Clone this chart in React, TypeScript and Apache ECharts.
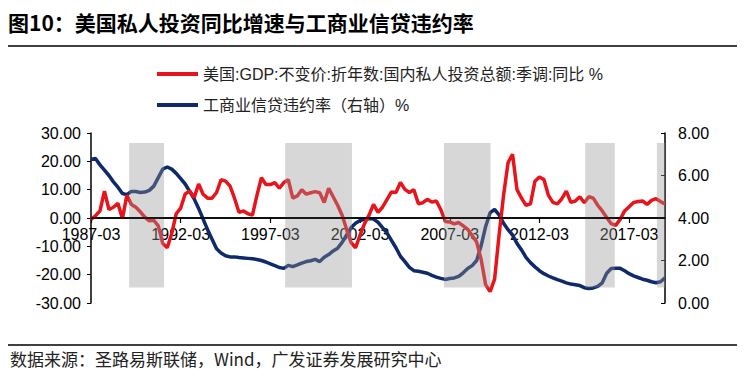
import React, { useEffect, useRef } from "react";
import * as echarts from "echarts";

// Quarterly categories 1987-03 .. 2019-03
const startYear = 1987;
const quarterMonths = ["03", "06", "09", "12"];
const categories: string[] = [];
for (let y = startYear; y <= 2019; y++) {
  for (const m of quarterMonths) {
    if (y === 2019 && m !== "03") continue;
    categories.push(`${y}-${m}`);
  }
}

// 美国:GDP:不变价:折年数:国内私人投资总额:季调:同比 (%)
const investYoY: number[] = [
  -0.5, 0.8, 2.5, 9.5, 3.0, 3.8, 5.2, -0.2, 8.0, 4.8,
  3.8, 2.2, 0.3, -1.0, -0.8, -2.8, -9.0, -10.5, -5.5, 1.5,
  3.5, 8.5, 9.5, 7.2, 12.0, 8.4, 7.0, 7.0, 9.0, 13.5,
  13.0, 11.3, 7.0, 2.0, 2.5, 1.5, 1.0, 8.0, 14.2, 11.8,
  11.8, 12.5, 10.5, 12.5, 13.5, 7.0, 7.8, 10.0, 8.4, 8.9,
  9.3, 8.9, 5.5, 10.5, 7.5, 4.5, 1.0, -4.0, -8.7, -10.5,
  -6.0, -2.0, 1.0, 4.8, 2.0, 3.8, 6.5, 9.2, 9.0, 12.5,
  10.1, 9.0, 10.0, 5.0, 5.4, 6.6, 5.6, 6.0, 3.0, -1.2,
  -1.4, -2.1, -1.6, -2.8, -4.0, -6.2, -8.5, -14.6, -23.5, -26.0,
  -21.6, -6.0, 8.0, 19.5, 22.5, 10.0, 7.0, 4.5, 5.0, 13.0,
  14.5, 13.6, 8.0, 5.5, 5.0, 6.8, 9.5, 5.5, 6.0, 7.5,
  5.4, 7.5, 7.0, 4.5, 2.5, 0.2, -2.0, -2.6, -0.5, 2.5,
  4.0, 5.5, 5.8, 6.0, 4.8, 6.2, 6.8, 5.8, 5.0,
];

// 工商业信贷违约率（右轴）%
const delinquency: number[] = [
  6.75, 6.8, 6.5, 6.25, 6.0, 5.7, 5.45, 5.15, 5.1, 5.25,
  5.25, 5.2, 5.22, 5.3, 5.5, 5.9, 6.3, 6.4, 6.3, 6.1,
  5.85, 5.6, 5.25, 4.9, 4.45, 3.95, 3.45, 3.0, 2.55, 2.35,
  2.22, 2.17, 2.17, 2.14, 2.12, 2.1, 2.08, 2.05, 2.0, 1.93,
  1.84, 1.76, 1.67, 1.63, 1.77, 1.71, 1.79, 1.88, 1.95, 1.99,
  2.05, 1.95, 2.15, 2.28, 2.45, 2.58, 2.85, 3.2, 3.55, 3.75,
  3.88, 3.95, 3.98, 3.95, 3.8, 3.55, 3.3, 2.95, 2.6, 2.2,
  1.95, 1.68, 1.52, 1.49, 1.45, 1.4, 1.3, 1.22, 1.16, 1.11,
  1.15, 1.18, 1.25, 1.42, 1.62, 1.76, 2.0, 2.7, 3.6, 4.25,
  4.4, 4.15, 3.75, 3.45, 3.2, 2.8, 2.5, 2.15, 1.9, 1.7,
  1.52, 1.38, 1.27, 1.18, 1.1, 1.03, 0.95, 0.89, 0.86, 0.82,
  0.72, 0.68, 0.71, 0.78, 0.95, 1.4, 1.62, 1.64, 1.63, 1.52,
  1.38, 1.28, 1.2, 1.12, 1.07, 1.0, 0.95, 1.0, 1.18,
];

// shaded periods (quarter index positions)
const bandStarts: number[] = [8.5, 43.3, 78.7, 110.2, 126.2];
const bandEnds: number[] = [16.3, 58.2, 89.1, 116.8, 129];
const bandTop = 26.5;
const bandBottom = -24.5;

const leftTicks = { min: -30, max: 30, interval: 10 };
const rightTicks = { min: 0, max: 8, interval: 2 };

const RED_NAME = "美国:GDP:不变价:折年数:国内私人投资总额:季调:同比 %";
const BLUE_NAME = "工商业信贷违约率（右轴）%";

const GRID_TOP = 133;
const GRID_BOTTOM_Y = 303;

export default function App() {
  const ref = useRef<HTMLDivElement>(null);
  useEffect(() => {
    if (!ref.current) return;
    const chart = echarts.init(ref.current, undefined, { renderer: "svg" });
    const font = "Arial, 'Liberation Sans', 'Noto Sans CJK SC', sans-serif";
    const redData = investYoY.map((v, i) => [i, v]);
    const blueData = delinquency.map((v, i) => [i, v]);
    const lastIndex = categories.length - 1;
    const zeroLine = [
      [0, 0],
      [lastIndex, 0],
    ];
    const areas = bandStarts.map((s, k) => [
      { xAxis: s, yAxis: bandTop },
      { xAxis: bandEnds[k], yAxis: bandBottom },
    ]);
    // place the category axis on the left axis' zero level
    const zeroShift =
      ((0 - leftTicks.min) / (leftTicks.max - leftTicks.min)) * (GRID_BOTTOM_Y - GRID_TOP);
    chart.setOption({
      animation: false,
      backgroundColor: "#ffffff",
      textStyle: { fontFamily: font },
      graphic: [
        {
          type: "text",
          left: 8,
          top: 11,
          style: {
            text: "图10：美国私人投资同比增速与工商业信贷违约率",
            fontSize: 21,
            fontWeight: "bold",
            fill: "#000",
            fontFamily: "'Noto Sans CJK SC', sans-serif",
          },
        },
        {
          type: "line",
          shape: { x1: 0, y1: 46, x2: 743, y2: 46 },
          style: { stroke: "#000", lineWidth: 1.5 },
        },
        {
          type: "line",
          shape: { x1: 0, y1: 345, x2: 743, y2: 345 },
          style: { stroke: "#000", lineWidth: 1.5 },
        },
        {
          type: "text",
          left: 10,
          top: 350,
          style: {
            text: "数据来源：圣路易斯联储，Wind，广发证券发展研究中心",
            fontSize: 17,
            fill: "#222",
            fontFamily: "'Noto Sans CJK SC', sans-serif",
          },
        },
      ],
      legend: {
        orient: "vertical",
        left: 152,
        top: 59,
        itemWidth: 41,
        itemHeight: 4,
        itemGap: 11,
        icon: "rect",
        data: [RED_NAME, BLUE_NAME],
        textStyle: {
          fontSize: 16,
          color: "#222",
          lineHeight: 20,
          fontFamily: "Arial, 'Noto Sans CJK SC', sans-serif",
        },
      },
      grid: { left: 91, right: 80, top: GRID_TOP, bottom: 377 - GRID_BOTTOM_Y, containLabel: false },
      xAxis: {
        type: "value",
        min: 0,
        max: lastIndex,
        interval: 20,
        position: "bottom",
        offset: -zeroShift,
        splitLine: { show: false },
        axisLine: { show: true, onZero: false, lineStyle: { color: "#000", width: 1.5 } },
        axisTick: { show: true, length: 5, lineStyle: { color: "#000", width: 1.2 } },
        axisLabel: {
          fontSize: 16,
          color: "#000",
          margin: 8,
          showMaxLabel: false,
          formatter: (v: number) => categories[Math.round(v)] ?? "",
        },
      },
      yAxis: [
        {
          type: "value",
          ...leftTicks,
          splitLine: { show: false },
          axisLine: { show: true, onZero: false, lineStyle: { color: "#000", width: 1.5 } },
          axisTick: { show: true, length: 4, lineStyle: { color: "#000" } },
          axisLabel: {
            fontSize: 16,
            color: "#000",
            margin: 10,
            formatter: (v: number) => v.toFixed(2),
          },
        },
        {
          type: "value",
          ...rightTicks,
          position: "right",
          splitLine: { show: false },
          axisLine: { show: true, onZero: false, lineStyle: { color: "#000", width: 1.5 } },
          axisTick: { show: true, length: 4, inside: true, lineStyle: { color: "#000" } },
          axisLabel: {
            fontSize: 16,
            color: "#000",
            margin: 13,
            formatter: (v: number) => v.toFixed(2),
          },
        },
      ],
      series: [
        {
          name: "zero",
          type: "line",
          yAxisIndex: 0,
          data: zeroLine,
          showSymbol: false,
          symbol: "none",
          silent: true,
          lineStyle: { color: "#000000", width: 1.5 },
          itemStyle: { color: "#000000" },
          z: 7,
        },
        {
          name: BLUE_NAME,
          type: "line",
          yAxisIndex: 1,
          data: blueData,
          showSymbol: false,
          symbol: "none",
          itemStyle: { color: "#0E2A6A" },
          lineStyle: { color: "#0E2A6A", width: 3.5 },
          z: 3,
        },
        {
          name: RED_NAME,
          type: "line",
          yAxisIndex: 0,
          data: redData,
          showSymbol: false,
          symbol: "none",
          itemStyle: { color: "#E8141B" },
          lineStyle: { color: "#E8141B", width: 3.5 },
          z: 4,
        },
        {
          name: "bands",
          type: "line",
          yAxisIndex: 0,
          data: [],
          z: 6,
          markArea: {
            silent: true,
            z: 6,
            itemStyle: { color: "rgba(150,150,150,0.38)", borderWidth: 0 },
            data: areas,
          },
        },
      ],
    });
    return () => chart.dispose();
  }, []);
  return <div ref={ref} style={{ width: 745, height: 377, margin: -8 }} />;
}
